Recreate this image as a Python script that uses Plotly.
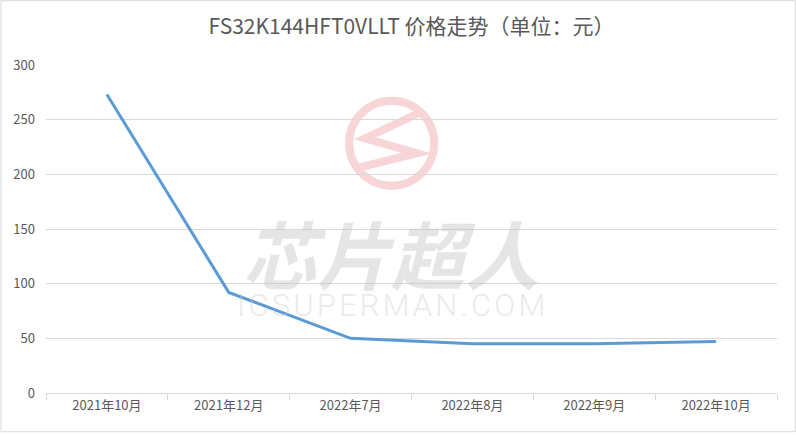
import plotly.graph_objects as go

# price history
months = ["2021年10月", "2021年12月", "2022年7月", "2022年8月", "2022年9月", "2022年10月"]
prices = [273, 92, 50, 45, 45, 47]
y_ticks = [0, 50, 100, 150, 200, 250, 300]

title_text = "FS32K144HFT0VLLT 价格走势（单位：元）"
watermark_cn = "芯片超人"
watermark_en = "ICSUPERMAN.COM"

FONT = "Noto Sans CJK SC"
GREY_TEXT = "#595959"
GRID = "#D9D9D9"
LOGO = "#F8D5D7"

fig = go.Figure()
fig.add_trace(
    go.Scatter(
        x=months,
        y=prices,
        mode="lines",
        line=dict(color="#5B9BD5", width=3),
        hoverinfo="x+y",
        showlegend=False,
    )
)

# watermark: logo ring + zigzag, drawn below the data
fig.add_shape(
    type="circle", xref="paper", yref="paper",
    x0=0.4147, x1=0.531, y0=0.632, y1=0.891,
    line=dict(color=LOGO, width=8), layer="below",
)
fig.add_shape(
    type="path", xref="paper", yref="paper",
    path="M 0.5142,0.8577 L 0.4366,0.7767 L 0.5073,0.7310 L 0.4252,0.6853",
    line=dict(color=LOGO, width=8), layer="below",
)
fig.add_annotation(
    text=watermark_cn, xref="paper", yref="paper", x=0.472, y=0.43,
    showarrow=False,
    font=dict(family=FONT, size=74, color="rgba(190,190,190,0.4)",
              weight="bold", style="italic"),
)
fig.add_annotation(
    text="\u200a".join(watermark_en), xref="paper", yref="paper", x=0.472, y=0.205,
    showarrow=False,
    font=dict(family="Roboto", size=31, weight=300, color="rgba(200,200,200,0.4)"),
)

# thin frame around the whole picture
fig.add_shape(
    type="rect", xref="paper", yref="paper",
    x0=-0.0616, x1=1.0250, y0=-0.118, y1=1.1960,
    line=dict(color=GRID, width=1),
)

fig.update_layout(
    width=796,
    height=435,
    margin=dict(l=46, r=19, t=65, b=42),
    paper_bgcolor="white",
    plot_bgcolor="white",
    font=dict(family=FONT, size=13, color=GREY_TEXT),
    title=dict(
        text=title_text,
        x=0.5,
        xref="paper",
        y=0.938,
        yanchor="middle",
        font=dict(family=FONT, size=21, color=GREY_TEXT),
    ),
    xaxis=dict(
        type="category",
        range=[-0.5, len(months) - 0.5],
        showgrid=False,
        showline=True,
        linecolor=GRID,
        linewidth=1,
        ticks="outside",
        tickson="boundaries",
        ticklen=6,
        tickcolor=GRID,
        tickfont=dict(size=13, color=GREY_TEXT),
    ),
    yaxis=dict(
        range=[0, 300],
        tickvals=y_ticks,
        showgrid=True,
        gridcolor=GRID,
        zeroline=False,
        showline=False,
        ticklabelstandoff=10,
        tickfont=dict(size=13, color=GREY_TEXT),
    ),
)

# page body has a default 8px margin; drop it so the figure fills the window
fig.write_html(
    "out.html",
    config={"displayModeBar": False},
    post_script="document.body.style.margin='0';",
)
